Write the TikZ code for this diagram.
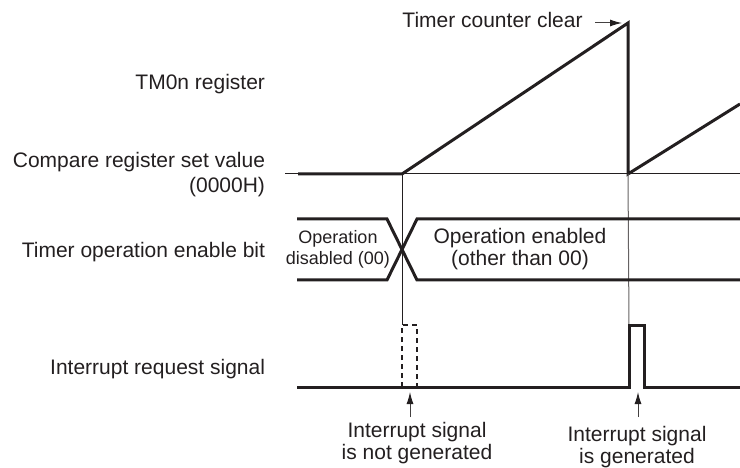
\documentclass[tikz,border=0pt]{standalone}
\usepackage{fontspec}
\setmainfont{Liberation Sans}
\usetikzlibrary{arrows.meta}
\definecolor{ink}{HTML}{231F20}
\begin{document}
\begin{tikzpicture}[x=1pt,y=-1pt,
  every node/.style={inner sep=0pt,outer sep=0pt,text=ink},
  lbl/.style={font=\fontsize{21}{25}\selectfont},
  lblc/.style={font=\fontsize{21}{22}\selectfont,align=center},
  small/.style={font=\fontsize{18}{21}\selectfont,align=center},
  wave/.style={draw=ink,line width=3pt,line join=miter},
  thin/.style={draw=ink,line width=1pt},
  guide/.style={draw=ink!70,line width=1pt},
  arr/.style={draw=ink!85,line width=1pt,-{Latex[length=12pt,width=7pt,fill=ink,color=ink]}}]
\useasboundingbox (0,0) rectangle (740,468);
% left labels
\node[lbl,anchor=base east] (ltm) at (265,90) {TM0n register};
\node[lbl,anchor=base east] (lcmp) at (265,168) {Compare register set value};
\node[lbl,anchor=base east] (lcmp2) at (265,193) {(0000H)};
\node[lbl,anchor=base east] (len) at (265,258) {Timer operation enable bit};
\node[lbl,anchor=base east] (lint) at (265,374) {Interrupt request signal};
% coordinates
\coordinate (c0) at (285,174);
\coordinate (c1) at (740,174);
\coordinate (w0) at (298,174);
\coordinate (r0) at (402,174);
\coordinate (pk) at (628,23);
\coordinate (r1) at (628,174);
\coordinate (re) at (740,104);
% compare line
\draw[thin] (c0) -- (c1);
% counter waveform
\draw[wave] (w0) -- (r0) -- (pk) -- (r1) -- (re);
% top label
\node[lbl,anchor=base] (clr) at (492.5,28) {Timer counter clear};
\coordinate (clrA) at (595,23);
\draw[arr] (clrA) -- (622,23);
% guides
\coordinate (g1b) at (402,325);
\coordinate (g2b) at (629,325);
\draw[thin] (r0) -- (g1b);
\draw[guide] (r1) -- (g2b);
% enable bit bus
\draw[wave] (297,219) -- (387,219) -- (417,280) -- (740,280);
\draw[wave] (297,280) -- (387,280) -- (417,219) -- (740,219);
\node[small] (dis) at (338,249.5) {Operation\\disabled (00)};
\node[lblc] (ena) at (520,249.5) {Operation enabled\\(other than 00)};
% interrupt signal
\draw[wave] (297,387) -- (629,387) -- (629,325) -- (644,325) -- (644,387) -- (740,387);
\draw[draw=ink,line width=2.6pt,dash pattern=on 5pt off 4pt] (402,387) -- (402,325) -- (417,325) -- (417,387);
% bottom labels
\node[lblc] (n1) at (417,443) {Interrupt signal\\is not generated};
\node[lblc] (n2) at (637,447) {Interrupt signal\\is generated};
\coordinate (a1) at (410,417);
\coordinate (a2) at (638,417);
\draw[arr] (a1) -- (410,392);
\draw[arr] (a2) -- (638,392);
\end{tikzpicture}
\end{document}
